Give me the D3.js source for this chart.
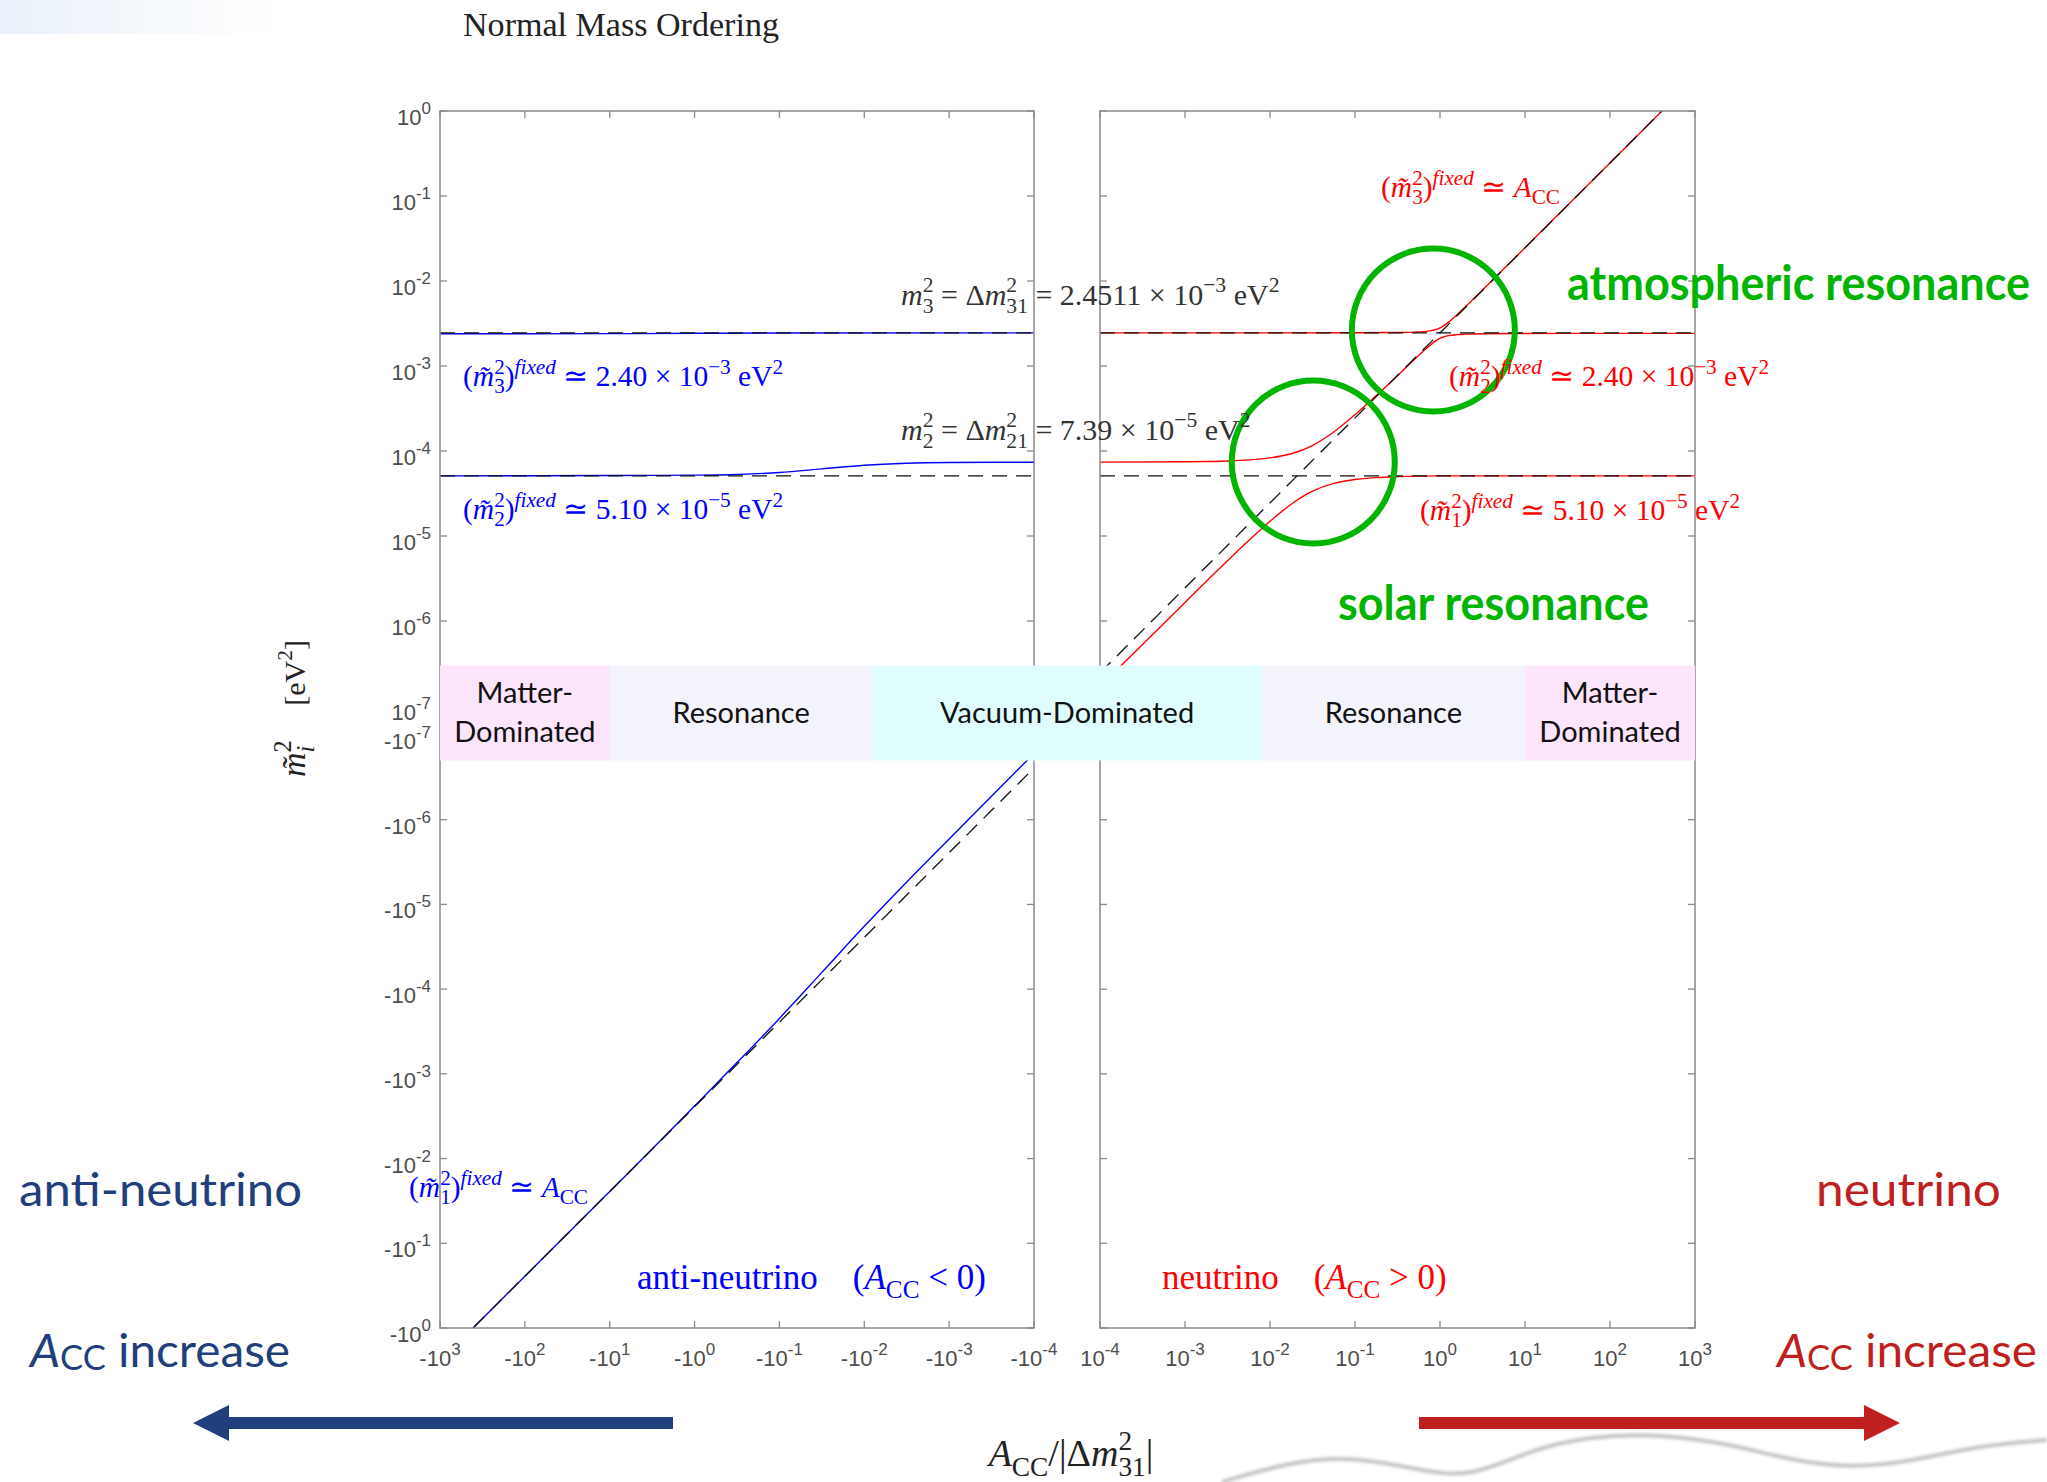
<!DOCTYPE html>
<html>
<head>
<meta charset="utf-8">
<script src="https://cdn.jsdelivr.net/npm/d3@7"></script>
<style>
  html, body { margin: 0; padding: 0; background: #fff; }
  svg { display: block; }
  text { white-space: pre; }
</style>
</head>
<body>
<svg id="chart" width="2047" height="1482"></svg>
<script>
(function (d3) {
    "use strict";

    /***** Données *****/
    // abscisse : A_CC/|dm31^2| ; ordonnée : m~_i^2 en eV^2

    // neutrino (A_CC > 0), courbes rouges
    const nu_m1 = [[1e-4, 1.689e-7], [1e-3, 1.656e-6], [1.78e-3, 2.923e-6], [3.16e-3, 5.112e-6],
        [5.62e-3, 8.837e-6], [0.01, 1.488e-5], [0.0178, 2.366e-5], [0.0316, 3.363e-5],
        [0.0562, 4.154e-5], [0.1, 4.618e-5], [0.178, 4.864e-5], [0.316, 4.994e-5],
        [1, 5.10e-5], [10, 5.10e-5], [1000, 5.10e-5]];
    const nu_m2 = [[1e-4, 7.40e-5], [1e-3, 7.467e-5], [1.78e-3, 7.527e-5], [3.16e-3, 7.639e-5],
        [5.62e-3, 7.856e-5], [0.01, 8.302e-5], [0.0178, 9.294e-5], [0.0316, 1.160e-4],
        [0.0562, 1.671e-4], [0.1, 2.675e-4], [0.178, 4.49e-4], [0.316, 7.70e-4],
        [0.5, 1.196e-3], [0.631, 1.485e-3], [0.794, 1.811e-3], [0.891, 1.972e-3],
        [1, 2.111e-3], [1.122, 2.211e-3], [1.259, 2.275e-3], [1.585, 2.340e-3],
        [2, 2.370e-3], [3.162, 2.396e-3], [10, 2.414e-3], [100, 2.419e-3], [1000, 2.420e-3]];
    const nu_m3 = [[1e-4, 2.451e-3], [0.1, 2.457e-3], [0.316, 2.475e-3], [0.5, 2.503e-3],
        [0.631, 2.535e-3], [0.794, 2.608e-3], [0.891, 2.685e-3], [1, 2.813e-3],
        [1.122, 3.012e-3], [1.259, 3.284e-3], [1.585, 4.018e-3], [2, 5.005e-3],
        [3.162, 7.828e-3], [10, 2.457e-2], [100, 0.2452], [1000, 2.451]];

    // anti-neutrino (A_CC < 0), courbes bleues
    const anu_m1 = [[-1000, -2.451], [-100, -0.2451], [-10, -2.446e-2], [-3.162, -7.710e-3],
        [-1, -2.390e-3], [-0.316, -7.366e-4], [-0.1, -2.215e-4], [-0.0316, -6.339e-5],
        [-0.01, -1.814e-5], [-3.16e-3, -5.435e-6], [-1e-3, -1.685e-6], [-1e-4, -1.652e-7]];
    const anu_m2 = [[-1000, 5.10e-5], [-10, 5.14e-5], [-1, 5.20e-5], [-0.316, 5.30e-5],
        [-0.1, 5.575e-5], [-0.0316, 6.157e-5], [-0.01, 6.809e-5], [-3.16e-3, 7.178e-5],
        [-1e-3, 7.321e-5], [-1e-4, 7.385e-5]];
    const anu_m3 = [[-1000, 2.398e-3], [-10, 2.402e-3], [-1, 2.424e-3], [-0.1, 2.446e-3],
        [-1e-4, 2.451e-3]];

    // droites de référence (tirets noirs)
    const ref_levels = [2.4511e-3, 5.10e-5];
    const ref_diag_pos = [[1e-4, 2.4511e-7], [1e3, 2.4511]];
    const ref_diag_neg = [[-1e3, -2.4511], [-1e-4, -2.4511e-7]];

    // graduations (exposants)
    const x_exps = [3, 2, 1, 0, -1, -2, -3, -4];
    const y_exps = [0, -1, -2, -3, -4, -5, -6, -7];

    // régimes
    const regions = [
        {lines: ["Matter-", "Dominated"], from: -1000, to: -10, kind: "matter"},
        {lines: ["Resonance"], from: -10, to: -0.008, kind: "res"},
        {lines: ["Vacuum-Dominated"], from: -0.008, to: 0.008, kind: "vac"},
        {lines: ["Resonance"], from: 0.008, to: 10, kind: "res"},
        {lines: ["Matter-", "Dominated"], from: 10, to: 1000, kind: "matter"}
    ];

    // résonances entourées
    const resonances = [
        {name: "atmospheric", a: 0.835, m: 2.65e-3},
        {name: "solar", a: 0.0323, m: 7.43e-5}
    ];

    /***** Configuration *****/
    const SERIF = "'Liberation Serif', 'Times New Roman', serif";
    const SANS = "'Liberation Sans', Arial, sans-serif";
    const CAL = "Lato, 'Open Sans', sans-serif";
    const BLUE = "#0000ff", RED = "#ff0000", GREEN = "#00b400";
    const NAVY = "#213f7c", CRIMSON = "#c01f20";
    const AXIS = "#8a8a8a", TICK_TXT = "#4d4d4d";
    const region_fill = {matter: "#fde5fb", res: "#f3f3fc", vac: "#e0fdfd"};

    const top_y = 111, bottom_y = 1328;
    const x_left = d3.scaleLog().domain([1e3, 1e-4]).range([440, 1034]);
    const x_right = d3.scaleLog().domain([1e-4, 1e3]).range([1100, 1695]);
    const y_pos = d3.scaleLog().domain([1, 1e-7]).range([top_y, 706]);
    const y_neg = d3.scaleLog().domain([1e-7, 1]).range([735, bottom_y]);

    const xOf = a => a < 0 ? x_left(-a) : x_right(a);
    const yOf = m => m < 0 ? y_neg(-m) : y_pos(m);

    const panels = [
        {id: "left", x: x_left, x0: 440, x1: 1034, sign: -1},
        {id: "right", x: x_right, x0: 1100, x1: 1695, sign: 1}
    ];

    const svg = d3.select("#chart");
    svg.append("rect").attr("width", 2047).attr("height", 1482).attr("fill", "#fff");

    // léger voile en haut à gauche
    const defs = svg.append("defs");
    const grad = defs.append("linearGradient").attr("id", "tint");
    grad.append("stop").attr("offset", "0%").attr("stop-color", "#eaf1fa");
    grad.append("stop").attr("offset", "100%").attr("stop-color", "#ffffff");
    svg.append("rect").attr("x", 0).attr("y", 0).attr("width", 280).attr("height", 34).attr("fill", "url(#tint)");

    defs.append("filter").attr("id", "blur").append("feGaussianBlur").attr("stdDeviation", 1.6);

    panels.forEach(p => {
        defs.append("clipPath").attr("id", "clip-" + p.id)
            .append("rect").attr("x", p.x0).attr("y", top_y)
            .attr("width", p.x1 - p.x0).attr("height", bottom_y - top_y);
    });

    /***** Texte mathématique *****/
    function mathText(g, x, y, parts, opt) {
        const size = opt.size;
        const txt = g.append("text").attr("x", x).attr("y", y)
            .attr("font-family", opt.family || SERIF).attr("font-size", size)
            .attr("fill", opt.color).attr("text-anchor", opt.anchor || "start");
        if (opt.rotate) txt.attr("transform", "rotate(" + opt.rotate + "," + x + "," + y + ")");
        if (opt.width) txt.attr("textLength", opt.width).attr("lengthAdjust", "spacingAndGlyphs");
        let level = 0, extra = 0;
        const up = -0.42 * size, down = 0.25 * size, small = 0.72 * size;
        function add(str, lvl, fs, italic) {
            const ts = txt.append("tspan").text(str).attr("font-size", fs)
                .attr("font-style", italic ? "italic" : "normal")
                .attr("dy", lvl - level);
            if (extra) { ts.attr("dx", extra); extra = 0; }
            level = lvl;
            return ts;
        }
        parts.forEach(p => {
            const k = p[0];
            if (k === "r") add(p[1], 0, size, false);
            else if (k === "i") add(p[1], 0, size, true);
            else if (k === "sup") add(p[1], up, small, p[2]);
            else if (k === "sub") add(p[1], down, small, p[2]);
            else if (k === "ss") {
                const a = add(p[1], up, small, false);
                const wa = a.node().getComputedTextLength();
                extra = -wa;
                const b = add(p[2], down, small, p[3]);
                const wb = b.node().getComputedTextLength();
                if (wa > wb) extra = wa - wb;
            }
        });
        return txt;
    }

    /***** Courbes *****/
    const line = d3.line()
        .x(d => xOf(d[0])).y(d => yOf(d[1]))
        .curve(d3.curveMonotoneX);

    function drawSeries(g, data, color, dashed) {
        const pts = data.slice().sort((a, b) => xOf(a[0]) - xOf(b[0]));
        g.append("path").datum(pts)
            .attr("d", line)
            .attr("fill", "none")
            .attr("stroke", color)
            .attr("stroke-width", dashed ? 1.3 : 1.4)
            .attr("stroke-dasharray", dashed ? "15,9" : null);
    }

    const g_left = svg.append("g").attr("clip-path", "url(#clip-left)");
    const g_right = svg.append("g").attr("clip-path", "url(#clip-right)");

    drawSeries(g_left, anu_m1, BLUE);
    drawSeries(g_left, anu_m2, BLUE);
    drawSeries(g_left, anu_m3, BLUE);
    drawSeries(g_right, nu_m1, RED);
    drawSeries(g_right, nu_m2, RED);
    drawSeries(g_right, nu_m3, RED);

    ref_levels.forEach(v => {
        drawSeries(g_left, [[-1e3, v], [-1e-4, v]], "#111", true);
        drawSeries(g_right, [[1e-4, v], [1e3, v]], "#111", true);
    });
    drawSeries(g_left, ref_diag_neg, "#111", true);
    drawSeries(g_right, ref_diag_pos, "#111", true);

    /***** Axes *****/
    const g_axes = svg.append("g");
    const tick_len = 7;
    const y_ticks = y_exps.map(e => y_pos(Math.pow(10, e)))
        .concat(y_exps.map(e => y_neg(Math.pow(10, e))));

    panels.forEach(p => {
        g_axes.append("rect")
            .attr("x", p.x0).attr("y", top_y)
            .attr("width", p.x1 - p.x0).attr("height", bottom_y - top_y)
            .attr("fill", "none").attr("stroke", AXIS).attr("stroke-width", 1.5);

        x_exps.forEach(e => {
            const x = p.x(Math.pow(10, e));
            g_axes.append("line").attr("x1", x).attr("x2", x).attr("y1", top_y).attr("y2", top_y + tick_len)
                .attr("stroke", AXIS).attr("stroke-width", 1.3);
            g_axes.append("line").attr("x1", x).attr("x2", x).attr("y1", bottom_y).attr("y2", bottom_y - tick_len)
                .attr("stroke", AXIS).attr("stroke-width", 1.3);

            const t = g_axes.append("text").attr("x", x).attr("y", 1366)
                .attr("font-family", SANS).attr("font-size", 22).attr("fill", TICK_TXT)
                .attr("text-anchor", "middle");
            t.append("tspan").text((p.sign < 0 ? "-" : "") + "10");
            t.append("tspan").text(e).attr("font-size", 17).attr("dy", -11);
        });

        y_ticks.forEach(y => {
            g_axes.append("line").attr("x1", p.x0).attr("x2", p.x0 + tick_len).attr("y1", y).attr("y2", y)
                .attr("stroke", AXIS).attr("stroke-width", 1.3);
            g_axes.append("line").attr("x1", p.x1).attr("x2", p.x1 - tick_len).attr("y1", y).attr("y2", y)
                .attr("stroke", AXIS).attr("stroke-width", 1.3);
        });
    });

    // étiquettes de l'axe y
    [[y_pos, ""], [y_neg, "-"]].forEach(([sc, pre]) => {
        y_exps.forEach(e => {
            const y = sc(Math.pow(10, e));
            const t = g_axes.append("text").attr("x", 431).attr("y", y + 14)
                .attr("font-family", SANS).attr("font-size", 22).attr("fill", TICK_TXT)
                .attr("text-anchor", "end");
            t.append("tspan").text(pre + "10");
            t.append("tspan").text(e).attr("font-size", 17).attr("dy", -11);
        });
    });

    /***** Bande des régimes *****/
    const band_top = y_pos(3e-7), band_bottom = y_neg(2e-7);
    const band_mid = (band_top + band_bottom) / 2;
    const g_band = svg.append("g");
    regions.forEach(r => {
        const xa = xOf(r.from), xb = xOf(r.to);
        g_band.append("rect").attr("x", xa).attr("y", band_top)
            .attr("width", xb - xa).attr("height", band_bottom - band_top)
            .attr("fill", region_fill[r.kind]);
        const n = r.lines.length;
        r.lines.forEach((s, i) => {
            g_band.append("text")
                .attr("x", (xa + xb) / 2)
                .attr("y", band_mid + 10 + (i - (n - 1) / 2) * 39)
                .attr("text-anchor", "middle")
                .attr("font-family", CAL).attr("font-size", 29).attr("fill", "#111")
                .text(s);
        });
    });

    /***** Résonances *****/
    const g_ann = svg.append("g");
    resonances.forEach(r => {
        g_ann.append("circle").attr("cx", xOf(r.a)).attr("cy", yOf(r.m)).attr("r", 81.5)
            .attr("fill", "none").attr("stroke", GREEN).attr("stroke-width", 6);
    });
    g_ann.append("text").attr("x", 1567).attr("y", 300).attr("font-family", CAL)
        .attr("font-weight", 700).attr("font-size", 47).attr("fill", GREEN)
        .attr("textLength", 463).attr("lengthAdjust", "spacingAndGlyphs")
        .text("atmospheric resonance");
    g_ann.append("text").attr("x", 1338).attr("y", 620).attr("font-family", CAL)
        .attr("font-weight", 700).attr("font-size", 47).attr("fill", GREEN)
        .attr("textLength", 311).attr("lengthAdjust", "spacingAndGlyphs")
        .text("solar resonance");

    /***** Annotations *****/
    const MT = "m\u0303";
    const DARK = "#333";
    mathText(g_ann, 463, 36, [["r", "Normal Mass Ordering"]], {size: 33, color: "#222", width: 316});

    mathText(g_ann, 901, 305, [["i", "m"], ["ss", "2", "3"], ["r", " = \u0394"], ["i", "m"], ["ss", "2", "31"],
        ["r", " = 2.4511 \u00d7 10"], ["sup", "\u22123"], ["r", " eV"], ["sup", "2"]], {size: 30, color: DARK});
    mathText(g_ann, 901, 440, [["i", "m"], ["ss", "2", "2"], ["r", " = \u0394"], ["i", "m"], ["ss", "2", "21"],
        ["r", " = 7.39 \u00d7 10"], ["sup", "\u22125"], ["r", " eV"], ["sup", "2"]], {size: 30, color: DARK});

    function fixedLabel(x, y, idx, rest, color) {
        const parts = [["r", "("], ["i", MT], ["ss", "2", idx], ["r", ")"], ["sup", "fixed", true]].concat(rest);
        mathText(g_ann, x, y, parts, {size: 29.5, color: color});
    }
    const val = (v, e) => [["r", " \u2243 " + v + " \u00d7 10"], ["sup", "\u2212" + e], ["r", " eV"], ["sup", "2"]];
    const acc = [["r", " \u2243 "], ["i", "A"], ["sub", "CC"]];

    fixedLabel(463, 386, "3", val("2.40", "3"), BLUE);
    fixedLabel(463, 519, "2", val("5.10", "5"), BLUE);
    fixedLabel(409, 1197, "1", acc, BLUE);
    fixedLabel(1381, 197, "3", acc, RED);
    fixedLabel(1449, 386, "2", val("2.40", "3"), RED);
    fixedLabel(1420, 520, "1", val("5.10", "5"), RED);

    mathText(g_ann, 637, 1289, [["r", "anti-neutrino    ("], ["i", "A"], ["sub", "CC"], ["r", " < 0)"]],
        {size: 35, color: BLUE});
    mathText(g_ann, 1162, 1289, [["r", "neutrino    ("], ["i", "A"], ["sub", "CC"], ["r", " > 0)"]],
        {size: 35, color: RED});

    // titres des axes
    mathText(g_ann, 1071, 1466, [["i", "A"], ["sub", "CC"], ["r", "/|\u0394"], ["i", "m"], ["ss", "2", "31"], ["r", "|"]],
        {size: 38, color: "#222", anchor: "middle"});
    mathText(g_ann, 305, 777, [["i", MT], ["ss", "2", "i", true]], {size: 34, color: "#222", rotate: -90});
    mathText(g_ann, 305, 640, [["r", "[eV"], ["sup", "2"], ["r", "]"]], {size: 30, color: "#222", rotate: -90, anchor: "end"});

    /***** Légendes extérieures *****/
    g_ann.append("text").attr("x", 19).attr("y", 1206).attr("font-family", CAL).attr("font-size", 46)
        .attr("fill", NAVY).attr("textLength", 283).attr("lengthAdjust", "spacingAndGlyphs").text("anti-neutrino");
    g_ann.append("text").attr("x", 1816).attr("y", 1206).attr("font-family", CAL).attr("font-size", 46)
        .attr("fill", CRIMSON).attr("textLength", 185).attr("lengthAdjust", "spacingAndGlyphs").text("neutrino");

    function accIncrease(x, color) {
        const t = g_ann.append("text").attr("x", x).attr("y", 1367).attr("font-family", CAL)
            .attr("font-size", 47).attr("fill", color)
            .attr("textLength", 260).attr("lengthAdjust", "spacingAndGlyphs");
        t.append("tspan").text("A").attr("font-style", "italic");
        t.append("tspan").text("CC").attr("font-size", 34).attr("dy", 3);
        t.append("tspan").text(" increase").attr("dy", -3);
    }
    accIncrease(30, NAVY);
    accIncrease(1777, CRIMSON);

    // flèches
    function arrow(x_from, x_to, color) {
        const dir = Math.sign(x_to - x_from), y = 1423, head = 36, half = 18;
        g_ann.append("line").attr("x1", x_from).attr("x2", x_to - dir * head).attr("y1", y).attr("y2", y)
            .attr("stroke", color).attr("stroke-width", 12);
        g_ann.append("path")
            .attr("d", "M" + x_to + "," + y + "L" + (x_to - dir * head) + "," + (y - half) +
                "L" + (x_to - dir * head) + "," + (y + half) + "Z")
            .attr("fill", color);
    }
    arrow(673, 193, NAVY);
    arrow(1419, 1900, CRIMSON);

    // trait gris flou en bas à droite (fond de la diapositive)
    const scribble = [[1222, 1482], [1290, 1462], [1350, 1456], [1420, 1470], [1470, 1478],
        [1530, 1450], [1590, 1436], [1660, 1434], [1730, 1444], [1790, 1460], [1850, 1468],
        [1910, 1462], [1975, 1446], [2047, 1440]];
    svg.append("path").datum(scribble)
        .attr("d", d3.line().curve(d3.curveBasis))
        .attr("fill", "none").attr("stroke", "#b0b0b0").attr("stroke-width", 4)
        .attr("opacity", 0.75).attr("filter", "url(#blur)");

})(d3);
</script>
</body>
</html>
